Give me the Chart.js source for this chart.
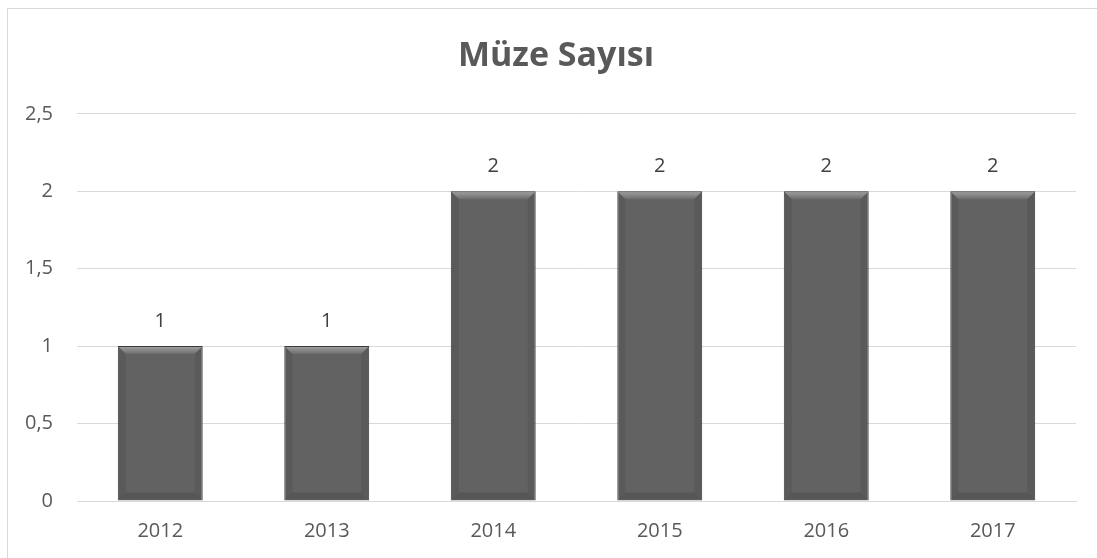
<!DOCTYPE html>
<html>
<head>
<meta charset="utf-8">
<title>Müze Sayısı</title>
<script src="https://cdn.jsdelivr.net/npm/chart.js@4/dist/chart.umd.min.js"></script>
<style>
    html, body { margin: 0; padding: 0; background: #fff; overflow: hidden; }
    .frame {
        position: absolute; left: 7px; top: 8px; width: 1200px; height: 700px;
        border-left: 1px solid #d9d9d9; border-top: 1px solid #d9d9d9;
    }
    .wrap { position: absolute; left: 0; top: 0; width: 1097px; height: 558px; }
</style>
</head>
<body>
<div class="frame"></div>
<div class="wrap"><canvas id="museumChart" width="1097" height="558"></canvas></div>
<script>
const years = ['2012', '2013', '2014', '2015', '2016', '2017'];
const museumCounts = [1, 1, 2, 2, 2, 2];
const yTicks = [0, 0.5, 1, 1.5, 2, 2.5];

const FONT = '"Open Sans", sans-serif';

// başlık biraz sağa kaysın (orijinalde grafik alanına göre ortalı)
const titleShift = {
    id: 'titleShift',
    afterLayout(chart) {
        if (chart.titleBlock) chart.titleBlock.left = 36;
    }
};

// sütunlara hafif kabartma + değer etiketleri
const barDecor = {
    id: 'barDecor',
    afterDatasetsDraw(chart) {
        const ctx = chart.ctx;
        const meta = chart.getDatasetMeta(0);
        ctx.save();
        meta.data.forEach((bar) => {
            const l = bar.x - bar.width / 2 + 1;
            const r = bar.x + bar.width / 2 - 1;
            const t = bar.y + 1;
            const b = bar.base - 1;
            const d = 7;
            // üst kenar
            let g = ctx.createLinearGradient(0, t, 0, t + d);
            g.addColorStop(0, '#9c9c9c');
            g.addColorStop(1, '#6c6c6c');
            ctx.fillStyle = g;
            ctx.beginPath();
            ctx.moveTo(l, t); ctx.lineTo(r, t); ctx.lineTo(r - d, t + d); ctx.lineTo(l + d, t + d);
            ctx.closePath(); ctx.fill();
            // alt kenar
            ctx.fillStyle = 'rgba(40,40,40,0.2)';
            ctx.beginPath();
            ctx.moveTo(l, b); ctx.lineTo(r, b); ctx.lineTo(r - d, b - d); ctx.lineTo(l + d, b - d);
            ctx.closePath(); ctx.fill();
            // yan kenarlar
            ctx.fillStyle = 'rgba(30,30,30,0.12)';
            ctx.beginPath();
            ctx.moveTo(l, t); ctx.lineTo(l + d, t + d); ctx.lineTo(l + d, b - d); ctx.lineTo(l, b);
            ctx.closePath(); ctx.fill();
            ctx.beginPath();
            ctx.moveTo(r, t); ctx.lineTo(r - d, t + d); ctx.lineTo(r - d, b - d); ctx.lineTo(r, b);
            ctx.closePath(); ctx.fill();
        });

        ctx.font = '20px ' + FONT;
        ctx.fillStyle = '#404040';
        ctx.textAlign = 'center';
        ctx.textBaseline = 'middle';
        meta.data.forEach((bar, i) => {
            ctx.fillText(String(museumCounts[i]), bar.x, bar.y - 25);
        });
        ctx.restore();
    }
};

const ctx = document.getElementById('museumChart').getContext('2d');
new Chart(ctx, {
    type: 'bar',
    data: {
        labels: years,
        datasets: [{
            label: 'Müze Sayısı',
            data: museumCounts,
            backgroundColor: '#626262',
            borderColor: '#3a3a3a',
            borderWidth: 1,
            categoryPercentage: 1,
            barPercentage: 0.51
        }]
    },
    options: {
        responsive: false,
        animation: false,
        layout: { padding: { left: 0, right: 21, top: 0, bottom: 0 } },
        plugins: {
            legend: { display: false },
            tooltip: { enabled: false },
            title: {
                display: true,
                text: 'Müze Sayısı',
                color: '#595959',
                font: { family: FONT, size: 34, weight: 'bold' },
                padding: { top: 36, bottom: 37 }
            }
        },
        scales: {
            x: {
                grid: { display: false, drawTicks: false },
                border: { display: true, color: '#d9d9d9', width: 1 },
                ticks: {
                    color: '#595959',
                    font: { family: FONT, size: 20 },
                    padding: 18
                },
                afterFit(scale) { scale.height = 57; }
            },
            y: {
                min: 0,
                max: 2.5,
                grid: { color: '#d9d9d9', drawTicks: false },
                border: { display: false },
                afterBuildTicks(scale) {
                    scale.ticks = yTicks.map(v => ({ value: v }));
                },
                ticks: {
                    color: '#595959',
                    font: { family: FONT, size: 20 },
                    padding: 24,
                    callback: v => String(v).replace('.', ',')
                },
                afterFit(scale) { scale.width = 77; }
            }
        }
    },
    plugins: [titleShift, barDecor]
});
</script>
</body>
</html>
